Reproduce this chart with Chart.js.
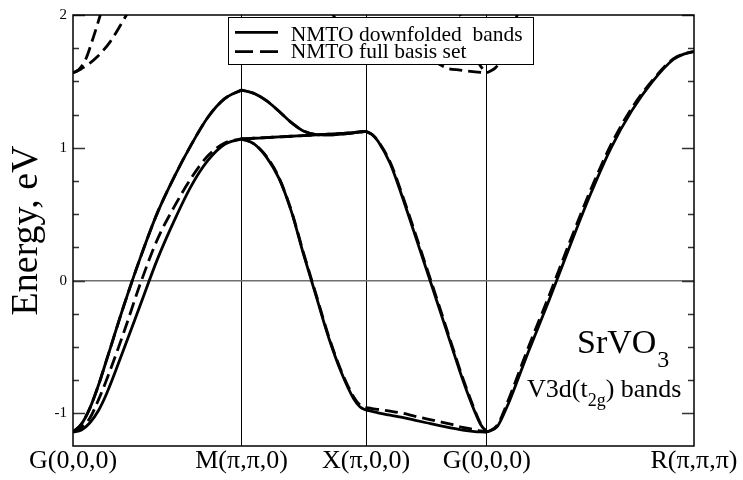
<!DOCTYPE html>
<html><head><meta charset="utf-8">
<script src="https://cdn.jsdelivr.net/npm/chart.js@4.4.0/dist/chart.umd.min.js"></script>
<style>html,body{margin:0;padding:0;background:#fff}canvas{display:block}</style>
</head><body>
<canvas id="c" width="743" height="480"></canvas>
<script>
// High-symmetry points along the k-path
const kPointLabels = ['G(0,0,0)', 'M(\u03c0,\u03c0,0)', 'X(\u03c0,0,0)', 'G(0,0,0)', 'R(\u03c0,\u03c0,\u03c0)'];
const kPointPositions = [0, 1.397, 2.429, 3.429, 5.146];
const yTickValues = [-1, 0, 1, 2];
const yMinorStep = 0.25;

// k samples on each path segment
const kGM = [0, 0.070, 0.140, 0.210, 0.279, 0.419, 0.559, 0.699, 0.838, 0.978, 1.118, 1.257, 1.397];
const kMX = [1.397, 1.500, 1.603, 1.707, 1.810, 1.913, 2.016, 2.119, 2.223, 2.326, 2.377, 2.429];
const kXG = [2.429, 2.479, 2.529, 2.629, 2.729, 2.829, 2.929, 3.029, 3.129, 3.229, 3.329, 3.379, 3.429];
const kGR = [3.429, 3.515, 3.601, 3.687, 3.772, 3.944, 4.116, 4.288, 4.459, 4.631, 4.803, 4.974, 5.060, 5.146];

// t2g bands (eV)
const eGM_upper       = [-1.14, -1.08, -0.96, -0.79, -0.595, -0.195, 0.175, 0.51, 0.78, 1.02, 1.23, 1.37, 1.435];
const eGM_lowerSolid  = [-1.14, -1.125, -1.07, -0.98, -0.85, -0.52, -0.18, 0.16, 0.45, 0.71, 0.905, 1.027, 1.067];
const eGM_lowerDashed = [-1.14, -1.105, -1.035, -0.90, -0.745, -0.395, -0.02, 0.31, 0.555, 0.77, 0.94, 1.037, 1.067];

const eMX_upper       = [1.435, 1.41, 1.355, 1.275, 1.19, 1.125, 1.10, 1.097, 1.103, 1.113, 1.12, 1.123];
const eMX_flat        = [1.067, 1.072, 1.077, 1.082, 1.087, 1.092, 1.097, 1.102, 1.108, 1.115, 1.12, 1.123];
const eMX_fallSolid   = [1.067, 1.03, 0.93, 0.77, 0.52, 0.19, -0.12, -0.43, -0.69, -0.89, -0.95, -0.975];
const eMX_fallDashed  = [1.067, 1.03, 0.935, 0.775, 0.525, 0.20, -0.11, -0.42, -0.68, -0.875, -0.935, -0.957];

const eXG_fallSolid   = [1.123, 1.10, 1.047, 0.88, 0.63, 0.358, 0.083, -0.193, -0.47, -0.745, -0.986, -1.085, -1.14];
const eXG_fallDashed  = [1.123, 1.10, 1.05, 0.89, 0.645, 0.375, 0.10, -0.175, -0.455, -0.73, -0.975, -1.08, -1.14];
const eXG_flatSolid   = [-0.975, -0.985, -0.995, -1.013, -1.03, -1.05, -1.07, -1.09, -1.108, -1.125, -1.136, -1.139, -1.14];
const eXG_flatDashed  = [-0.957, -0.963, -0.97, -0.983, -0.998, -1.02, -1.04, -1.06, -1.08, -1.105, -1.122, -1.132, -1.14];

const eGR_solid       = [-1.14, -1.10, -0.94, -0.742, -0.54, -0.15, 0.257, 0.65, 1.00, 1.28, 1.50, 1.665, 1.705, 1.725];
const eGR_dashed      = [-1.14, -1.09, -0.915, -0.71, -0.505, -0.115, 0.29, 0.68, 1.025, 1.30, 1.51, 1.67, 1.708, 1.725];

// higher bands, full basis set only
const kHiA = [0, 0.044, 0.102, 0.168, 0.226, 0.276];
const eHiA = [1.565, 1.585, 1.66, 1.83, 2.0, 2.15];
const kHiB = [0, 0.060, 0.143, 0.201, 0.309, 0.417, 0.475];
const eHiB = [1.565, 1.59, 1.64, 1.685, 1.80, 1.96, 2.05];
const kHiC = [2.090, 2.156, 2.214, 2.297, 2.429, 2.628, 2.794, 2.960, 3.100, 3.208, 3.332, 3.429];
const eHiC = [2.15, 2.0, 1.93, 1.89, 1.87, 1.82, 1.75, 1.67, 1.60, 1.585, 1.572, 1.565];
const kHiD = [3.168, 3.208, 3.227, 3.291, 3.374, 3.429];
const eHiD = [2.08, 2.0, 1.957, 1.78, 1.62, 1.565];
const kHiE = [3.429, 3.498, 3.556, 3.605, 3.647, 3.680, 3.713];
const eHiE = [1.565, 1.60, 1.67, 1.77, 1.89, 2.0, 2.1];

const seriesNames = ['NMTO downfolded  bands', 'NMTO full basis set'];

const solidCurves = [
  [kGM, eGM_upper], [kGM, eGM_lowerSolid],
  [kMX, eMX_upper], [kMX, eMX_flat], [kMX, eMX_fallSolid],
  [kXG, eXG_fallSolid], [kXG, eXG_flatSolid],
  [kGR, eGR_solid]
];
const dashedCurves = [
  [kGM, eGM_upper], [kGM, eGM_lowerDashed],
  [kMX, eMX_upper], [kMX, eMX_flat], [kMX, eMX_fallDashed],
  [kXG, eXG_fallDashed], [kXG, eXG_flatDashed],
  [kGR, eGR_dashed],
  [kHiA, eHiA], [kHiB, eHiB], [kHiC, eHiC], [kHiD, eHiD], [kHiE, eHiE]
];

const LW = 2.8;
const DASH = [13, 6];
function mk(pair, dashed, name) {
  return {
    label: name,
    data: pair[0].map((k, i) => ({x: k, y: pair[1][i]})),
    borderColor: '#000', borderWidth: LW, borderDash: dashed ? DASH : [],
    pointRadius: 0, pointHoverRadius: 0, fill: false,
    cubicInterpolationMode: 'monotone', borderJoinStyle: 'round'
  };
}
const datasets = [
  ...solidCurves.map(p => mk(p, false, seriesNames[0])),
  ...dashedCurves.map(p => mk(p, true, seriesNames[1]))
];

const serif = 'Liberation Serif, Times New Roman, serif';

const decor = {
  id: 'decor',
  afterDatasetsDraw(chart) {
    const ctx = chart.ctx;
    const a = chart.chartArea;
    const ys = chart.scales.y;
    ctx.save();
    // inward tick marks on both y sides
    ctx.strokeStyle = '#333';
    ctx.lineWidth = 1.3;
    for (let v = yTickValues[0]; v <= yTickValues[yTickValues.length - 1] + 1e-6; v += yMinorStep) {
      const y = Math.round(ys.getPixelForValue(v)) + 0.5;
      const major = Math.abs(v - Math.round(v)) < 1e-6;
      const len = major ? 12 : 6;
      ctx.beginPath();
      ctx.moveTo(a.left, y); ctx.lineTo(a.left + len, y);
      ctx.moveTo(a.right, y); ctx.lineTo(a.right - len, y);
      ctx.stroke();
    }
    // frame
    ctx.strokeStyle = '#000';
    ctx.lineWidth = 1.5;
    ctx.strokeRect(a.left, a.top, a.right - a.left, a.bottom - a.top);

    // legend box
    const lx = 228.5, ly = 17.5, lw = 305, lh = 47;
    ctx.fillStyle = '#fff';
    ctx.fillRect(lx, ly, lw, lh);
    ctx.lineWidth = 1;
    ctx.strokeStyle = '#000';
    ctx.strokeRect(lx, ly, lw, lh);
    ctx.lineWidth = LW;
    ctx.beginPath(); ctx.setLineDash([]);
    ctx.moveTo(235, 32.3); ctx.lineTo(278, 32.3); ctx.stroke();
    ctx.beginPath(); ctx.setLineDash([18, 7]);
    ctx.moveTo(235, 51.7); ctx.lineTo(278, 51.7); ctx.stroke();
    ctx.setLineDash([]);
    ctx.fillStyle = '#000';
    ctx.font = '21.5px ' + serif;
    ctx.textAlign = 'left';
    ctx.textBaseline = 'alphabetic';
    ctx.fillText(seriesNames[0], 290.7, 40.7);
    ctx.fillText(seriesNames[1], 290.7, 58.3);

    // annotation
    ctx.font = '34px ' + serif;
    ctx.fillText('SrVO', 577, 353);
    let w = ctx.measureText('SrVO').width;
    ctx.font = '24px ' + serif;
    ctx.fillText('3', 577 + w + 1, 367);

    let x = 527;
    ctx.font = '26px ' + serif;
    ctx.fillText('V3d(t', x, 397);
    x += ctx.measureText('V3d(t').width;
    ctx.font = '18px ' + serif;
    ctx.fillText('2g', x, 406);
    x += ctx.measureText('2g').width;
    ctx.font = '26px ' + serif;
    ctx.fillText(') bands', x, 397);
    ctx.restore();
  }
};

new Chart(document.getElementById('c'), {
  type: 'line',
  data: { datasets },
  options: {
    responsive: false, animation: false, devicePixelRatio: 1,
    layout: { padding: { left: 0, right: 49, top: 11, bottom: 0 } },
    plugins: { legend: { display: false }, tooltip: { enabled: false } },
    scales: {
      x: {
        type: 'linear', min: kPointPositions[0], max: kPointPositions[kPointPositions.length - 1],
        afterBuildTicks: s => { s.ticks = kPointPositions.map(v => ({value: v})); },
        afterFit: s => { s.height = 34; },
        grid: {
          color: c => (c.index > 0 && c.index < kPointPositions.length - 1) ? '#000' : 'rgba(0,0,0,0)',
          lineWidth: 1, drawTicks: false
        },
        border: { display: false },
        ticks: {
          autoSkip: false, maxRotation: 0, minRotation: 0, padding: 0, color: '#000',
          font: { family: serif, size: 26 },
          callback: (v, i) => kPointLabels[i]
        }
      },
      y: {
        type: 'linear', min: -1.245, max: 2,
        afterBuildTicks: s => { s.ticks = yTickValues.map(v => ({value: v})); },
        afterFit: s => { s.width = 73; },
        grid: {
          color: c => (c.tick && c.tick.value === 0) ? '#6e6e6e' : 'rgba(0,0,0,0)',
          lineWidth: 1.5, drawTicks: false
        },
        border: { display: false },
        ticks: { padding: 6, color: '#000', font: { family: serif, size: 15 }, callback: v => String(v) },
        title: { display: true, text: 'Energy, eV', color: '#000', font: { family: serif, size: 38 }, padding: { top: 4, bottom: 4 } }
      }
    }
  },
  plugins: [decor]
});
</script>
</body></html>
